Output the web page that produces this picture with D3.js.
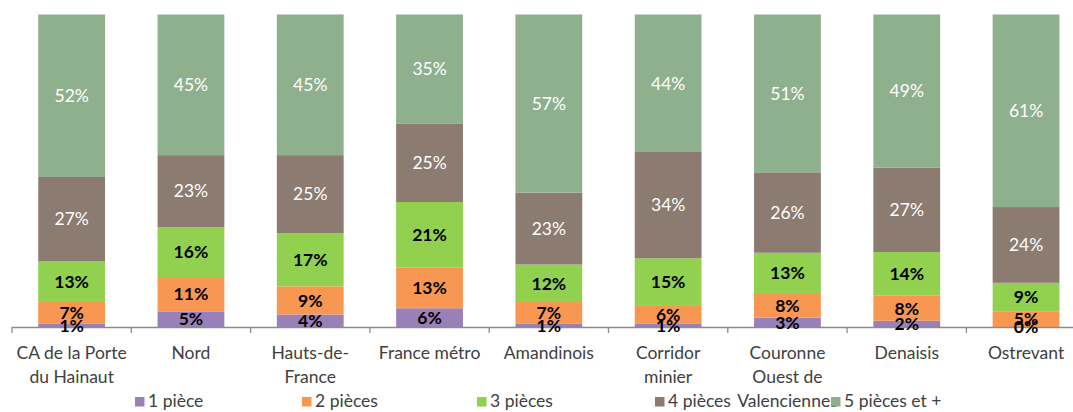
<!DOCTYPE html>
<html>
<head>
<meta charset="utf-8">
<script src="https://cdn.jsdelivr.net/npm/d3@7/dist/d3.min.js"></script>
<style>
  html, body { margin: 0; padding: 0; background: #ffffff; }
  svg { display: block; font-family: Lato, "Liberation Sans", sans-serif; }
</style>
</head>
<body>
<svg id="chart" width="1073" height="412"></svg>
<script>
// Répartition des logements par nombre de pièces (%)
const categories = [
  "CA de la Porte du Hainaut", "Nord", "Hauts-de-France", "France métro",
  "Amandinois", "Corridor minier", "Couronne Ouest de Valenciennes",
  "Denaisis", "Ostrevant"
];
const tickLabels = [
  ["CA de la Porte", "du Hainaut"], ["Nord"], ["Hauts-de-", "France"],
  ["France métro"], ["Amandinois"], ["Corridor", "minier"],
  ["Couronne", "Ouest de", "Valenciennes"], ["Denaisis"], ["Ostrevant"]
];
const seriesNames = ["1 pièce", "2 pièces", "3 pièces", "4 pièces", "5 pièces et +"];
const piece1 = [1, 5, 4, 6, 1, 1, 3, 2, 0];
const piece2 = [7, 11, 9, 13, 7, 6, 8, 8, 5];
const piece3 = [13, 16, 17, 21, 12, 15, 13, 14, 9];
const piece4 = [27, 23, 25, 25, 23, 34, 26, 27, 24];
const piece5 = [52, 45, 45, 35, 57, 44, 51, 49, 61];

const seriesValues = [piece1, piece2, piece3, piece4, piece5];
const colors = ["#9a80b9", "#f89752", "#92d050", "#8b7b70", "#8fb08d"];

// Rows for d3.stack, one per territory
const rows = categories.map((c, i) => {
  const r = { cat: c };
  seriesNames.forEach((s, k) => { r[s] = seriesValues[k][i]; });
  return r;
});

const svg = d3.select("#chart");
const margin = { left: 12, top: 14.5, bottom: 85 };
const step = 119.3;
const plotBottom = 327;

const x = d3.scaleBand()
  .domain(categories)
  .range([margin.left, margin.left + step * categories.length])
  .paddingInner(0.44)
  .paddingOuter(0.22);

const y = d3.scaleLinear().domain([0, 1]).range([plotBottom, margin.top]);

// 100 % stacked columns
const stacked = d3.stack().keys(seriesNames).offset(d3.stackOffsetExpand)(rows);

const layers = svg.append("g").selectAll("g")
  .data(stacked)
  .join("g")
  .attr("fill", (d, i) => colors[i]);

layers.selectAll("rect")
  .data(d => d)
  .join("rect")
  .attr("x", d => x(d.data.cat))
  .attr("width", x.bandwidth())
  .attr("y", d => y(d[1]))
  .attr("height", d => y(d[0]) - y(d[1]));

// Axis line and category separators
const axisG = svg.append("g").attr("transform", `translate(0,${plotBottom})`);
axisG.call(d3.axisBottom(x).tickSize(0).tickFormat(""))
  .call(g => g.select(".domain").attr("stroke", "#8c8c8c").attr("stroke-width", 1.3)
    .attr("d", `M${margin.left},0.5H${margin.left + step * categories.length}`));
axisG.selectAll(".sep")
  .data(d3.range(categories.length + 1))
  .join("line")
  .attr("x1", i => margin.left + i * step)
  .attr("x2", i => margin.left + i * step)
  .attr("y1", 0)
  .attr("y2", 6)
  .attr("stroke", "#8c8c8c")
  .attr("stroke-width", 1.3);

// Category labels (wrapped)
const labG = svg.append("g")
  .attr("fill", "#404040")
  .attr("font-size", "17.5px")
  .attr("text-anchor", "middle");
categories.forEach((c, i) => {
  const t = labG.append("text")
    .attr("x", x(c) + x.bandwidth() / 2)
    .attr("y", 359);
  tickLabels[i].forEach((line, j) => {
    t.append("tspan")
      .attr("x", x(c) + x.bandwidth() / 2)
      .attr("dy", j === 0 ? 0 : 24)
      .text(line);
  });
});

// Value labels inside the segments
const valG = svg.append("g")
  .attr("font-size", "17.5px")
  .attr("text-anchor", "middle");
stacked.forEach((layer, k) => {
  valG.selectAll(null)
    .data(layer)
    .join("text")
    .attr("x", d => x(d.data.cat) + x.bandwidth() / 2)
    .attr("y", d => (y(d[0]) + y(d[1])) / 2)
    .attr("dy", "0.36em")
    .attr("fill", k < 3 ? "#000000" : "#ffffff")
    .attr("font-weight", k < 3 ? "bold" : "normal")
    .text(d => d.data[layer.key] + "%");
});

// Legend
const legendX = [135, 302, 477, 655, 831];
const leg = svg.append("g").attr("font-size", "17.5px").attr("fill", "#404040");
seriesNames.forEach((s, i) => {
  leg.append("rect")
    .attr("x", legendX[i])
    .attr("y", 397)
    .attr("width", 9.5)
    .attr("height", 9.5)
    .attr("fill", colors[i]);
  leg.append("text")
    .attr("x", legendX[i] + 13)
    .attr("y", 407)
    .text(s);
});
</script>
</body>
</html>
